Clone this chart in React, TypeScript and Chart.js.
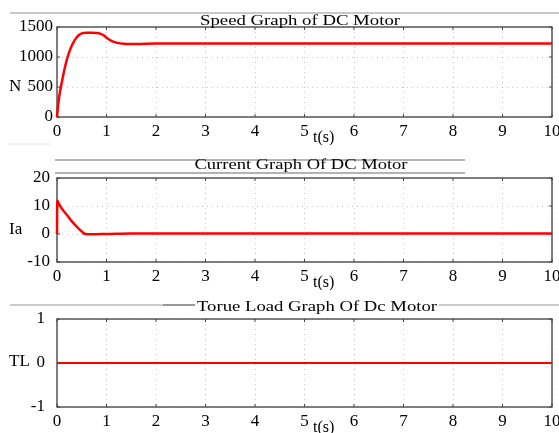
import React, { useEffect, useRef } from "react";
import { Chart, registerables } from "chart.js";
Chart.register(...registerables);

// ---- data ----
const xTickValues = [0, 1, 2, 3, 4, 5, 6, 7, 8, 9, 10];

const speedTime = [0, 0.03, 0.06, 0.1, 0.15, 0.2, 0.25, 0.3, 0.35, 0.4, 0.45, 0.5, 0.6, 0.7, 0.8, 0.87, 0.95, 1.0, 1.1, 1.2, 1.35, 1.6, 2.0, 10];
const speedValues = [0, 250, 420, 590, 790, 960, 1090, 1190, 1270, 1330, 1370, 1395, 1405, 1405, 1400, 1390, 1360, 1320, 1270, 1240, 1220, 1215, 1225, 1225];

const currentTime = [0, 0.005, 0.02, 0.05, 0.1, 0.2, 0.3, 0.4, 0.5, 0.57, 0.7, 1.0, 1.5, 10];
const currentValues = [0, 12, 11.5, 10.5, 9, 6.8, 4.5, 2.6, 0.9, 0, -0.1, 0, 0.2, 0.2];

const torqueTime = [0, 10];
const torqueValues = [0, 0];

const speedTicks = [0, 500, 1000, 1500];
const currentTicks = [-10, 0, 10, 20];
const torqueTicks = [-1, 0, 1];

const titles = ["Speed Graph of DC Motor", "Current Graph Of DC Motor", "Torue Load Graph Of Dc Motor"];
const yLabels = ["N", "Ia", "TL"];
const xLabel = "t(s)";

const FONT = '"Liberation Serif", "Times New Roman", serif';

const decoPlugin = {
  id: "deco",
  beforeDraw(chart: any, _args: any, opts: any) {
    const ctx = chart.ctx;
    ctx.save();
    ctx.fillStyle = "#fff";
    ctx.fillRect(0, 0, chart.width, chart.height);
    for (const l of opts.lines || []) {
      ctx.strokeStyle = l.color;
      ctx.lineWidth = l.w;
      ctx.beginPath();
      ctx.moveTo(l.x1, l.y);
      ctx.lineTo(l.x2, l.y);
      ctx.stroke();
    }
    ctx.restore();
  },
  beforeDatasetsDraw(chart: any) {
    const ctx = chart.ctx;
    const a = chart.chartArea;
    ctx.save();
    ctx.strokeStyle = "#555";
    ctx.lineWidth = 1.5;
    ctx.strokeRect(a.left, a.top, a.right - a.left, a.bottom - a.top);
    ctx.lineWidth = 1;
    ctx.strokeStyle = "#444";
    const xs = chart.scales.x;
    const ys = chart.scales.y;
    for (const t of xs.ticks) {
      const px = xs.getPixelForValue(t.value);
      ctx.beginPath();
      ctx.moveTo(px, a.top);
      ctx.lineTo(px, a.top + 3);
      ctx.moveTo(px, a.bottom);
      ctx.lineTo(px, a.bottom - 3);
      ctx.stroke();
    }
    for (const t of ys.ticks) {
      const py = ys.getPixelForValue(t.value);
      ctx.beginPath();
      ctx.moveTo(a.left, py);
      ctx.lineTo(a.left + 3, py);
      ctx.moveTo(a.right, py);
      ctx.lineTo(a.right - 3, py);
      ctx.stroke();
    }
    ctx.restore();
  },
  afterDraw(chart: any, _args: any, opts: any) {
    const ctx = chart.ctx;
    ctx.save();
    ctx.font = `15px ${FONT}`;
    ctx.textBaseline = "middle";
    ctx.textAlign = "center";
    const w = ctx.measureText(opts.title).width;
    if (opts.titleBg) {
      ctx.fillStyle = "#fff";
      ctx.fillRect(opts.titleX - opts.titleW / 2 - 2, opts.titleY - 5, opts.titleW + 4, 10);
    }
    ctx.save();
    ctx.translate(opts.titleX, opts.titleY);
    ctx.scale(opts.titleW / w, 1);
    ctx.fillStyle = "#000";
    ctx.fillText(opts.title, 0, 0);
    ctx.restore();
    ctx.font = `17px ${FONT}`;
    ctx.textAlign = "left";
    ctx.fillStyle = "#000";
    ctx.fillText(opts.yLabel, opts.yLabelX, opts.yLabelY);
    ctx.font = `16px ${FONT}`;
    ctx.fillText(xLabel, opts.tX, opts.tY);
    ctx.restore();
  },
};

type PanelProps = {
  top: number;
  height: number;
  time: number[];
  values: number[];
  yTicks: number[];
  lineWidth: number;
  padTop: number;
  xAxisH: number;
  yTickPad: number;
  deco: any;
};

function Panel(p: PanelProps) {
  const ref = useRef<HTMLCanvasElement>(null);
  useEffect(() => {
    if (!ref.current) return;
    const yMin = p.yTicks[0];
    const yMax = p.yTicks[p.yTicks.length - 1];
    const chart = new Chart(ref.current, {
      type: "line",
      data: {
        datasets: [
          {
            data: p.time.map((t, i) => ({ x: t, y: p.values[i] })),
            borderColor: "#ff0000",
            borderWidth: p.lineWidth,
            pointRadius: 0,
            cubicInterpolationMode: "monotone",
            fill: false,
            clip: false as any,
          },
        ],
      },
      options: {
        responsive: false,
        animation: false,
        layout: { padding: { top: p.padTop, right: 7, left: 0, bottom: 0 } },
        plugins: {
          legend: { display: false },
          tooltip: { enabled: false },
          deco: p.deco,
        } as any,
        scales: {
          x: {
            type: "linear",
            min: 0,
            max: 10,
            afterBuildTicks: (s: any) => {
              s.ticks = xTickValues.map((v) => ({ value: v }));
            },
            afterFit: (s: any) => {
              s.height = p.xAxisH;
              s.paddingLeft = 0;
              s.paddingRight = 0;
            },
            grid: { color: "rgba(110,110,110,0.4)", drawTicks: false },
            border: { display: false, dash: [1, 4] },
            ticks: {
              padding: 4,
              maxRotation: 0,
              autoSkip: false,
              color: "#000",
              font: { family: FONT, size: 17 },
              callback: (v: any) => String(v),
            },
          },
          y: {
            type: "linear",
            min: yMin,
            max: yMax,
            afterBuildTicks: (s: any) => {
              s.ticks = p.yTicks.map((v) => ({ value: v }));
            },
            afterFit: (s: any) => {
              s.width = 57;
              s.paddingTop = 0;
              s.paddingBottom = 0;
            },
            grid: { color: "rgba(110,110,110,0.4)", drawTicks: false },
            border: { display: false, dash: [1, 4] },
            ticks: {
              padding: p.yTickPad,
              autoSkip: false,
              color: "#000",
              font: { family: FONT, size: 17 },
              callback: (v: any) => String(v),
            },
          },
        },
      },
      plugins: [decoPlugin as any],
    });
    return () => chart.destroy();
  }, []);
  return (
    <canvas
      ref={ref}
      width={559}
      height={p.height}
      style={{ position: "absolute", left: 0, top: p.top, width: 559, height: p.height }}
    />
  );
}

export default function App() {
  return (
    <div style={{ position: "fixed", left: 0, top: 0, width: 559, height: 433, background: "#fff", overflow: "hidden" }}>
      <Panel
        top={0}
        height={145}
        time={speedTime}
        values={speedValues}
        yTicks={speedTicks}
        lineWidth={2.5}
        padTop={27}
        xAxisH={28}
        yTickPad={4}
        deco={{
          title: titles[0],
          titleX: 300,
          titleY: 21,
          titleW: 200,
          titleBg: false,
          yLabel: yLabels[0],
          yLabelX: 9,
          yLabelY: 87,
          tX: 313,
          tY: 138,
          lines: [
            { x1: 10, x2: 559, y: 13, color: "#c8c8c8", w: 2 },
            { x1: 8, x2: 50, y: 144, color: "#e2e2e2", w: 1 },
          ],
        }}
      />
      <Panel
        top={145}
        height={145}
        time={currentTime}
        values={currentValues}
        yTicks={currentTicks}
        lineWidth={2.5}
        padTop={33}
        xAxisH={28}
        yTickPad={7}
        deco={{
          title: titles[1],
          titleX: 301,
          titleY: 20,
          titleW: 213,
          titleBg: false,
          yLabel: yLabels[1],
          yLabelX: 9,
          yLabelY: 85,
          tX: 313,
          tY: 138,
          lines: [
            { x1: 55, x2: 465, y: 15, color: "#b4b4b4", w: 2 },
            { x1: 55, x2: 465, y: 28, color: "#b4b4b4", w: 2 },
          ],
        }}
      />
      <Panel
        top={290}
        height={143}
        time={torqueTime}
        values={torqueValues}
        yTicks={torqueTicks}
        lineWidth={1.8}
        padTop={29}
        xAxisH={26}
        yTickPad={12}
        deco={{
          title: titles[2],
          titleX: 317,
          titleY: 17,
          titleW: 240,
          titleBg: true,
          yLabel: yLabels[2],
          yLabelX: 9,
          yLabelY: 72,
          tX: 313,
          tY: 138,
          lines: [
            { x1: 10, x2: 559, y: 15, color: "#cccccc", w: 2 },
            { x1: 163, x2: 197, y: 15, color: "#999999", w: 2 },
          ],
        }}
      />
    </div>
  );
}
